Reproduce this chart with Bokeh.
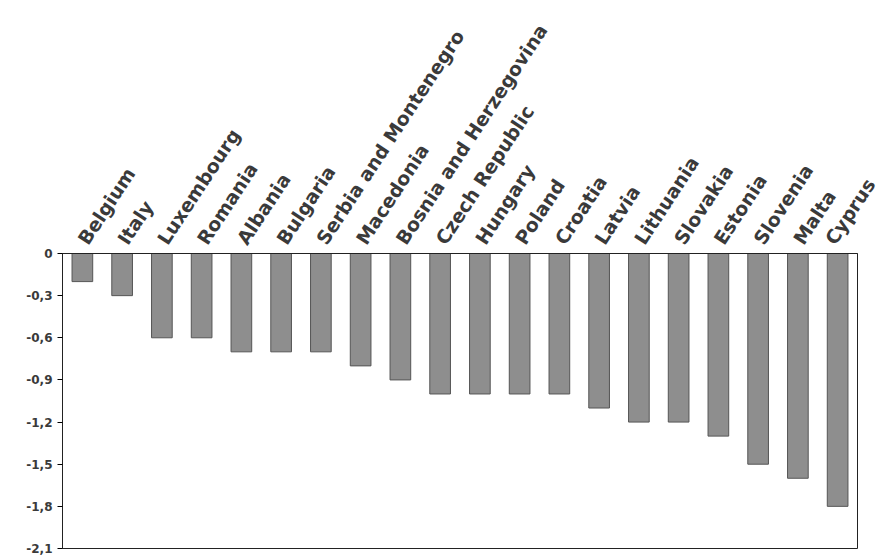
import math
from bokeh.plotting import figure
from bokeh.models import CustomJSTickFormatter, FixedTicker, Range1d
from bokeh.embed import file_html
from bokeh.resources import INLINE

countries = ["Belgium", "Italy", "Luxembourg", "Romania", "Albania", "Bulgaria",
             "Serbia and Montenegro", "Macedonia", "Bosnia and Herzegovina",
             "Czech Republic", "Hungary", "Poland", "Croatia", "Latvia", "Lithuania",
             "Slovakia", "Estonia", "Slovenia", "Malta", "Cyprus"]
values = [-0.2, -0.3, -0.6, -0.6, -0.7, -0.7, -0.7, -0.8, -0.9, -1.0, -1.0,
          -1.0, -1.0, -1.1, -1.2, -1.2, -1.3, -1.5, -1.6, -1.8]
yticks = [0, -0.3, -0.6, -0.9, -1.2, -1.5, -1.8, -2.1]

p = figure(x_range=countries, width=879, height=557, output_backend="svg",
           toolbar_location=None, x_axis_location="above",
           min_border_left=62, min_border_right=22, min_border_top=253,
           min_border_bottom=9)
p.y_range = Range1d(-2.1, 0)
p.vbar(x=countries, top=values, bottom=0, width=0.52,
       fill_color="#8e8e8e", line_color="#555555", line_width=1)

p.xgrid.visible = False
p.ygrid.visible = False
p.outline_line_color = "#222222"
p.xaxis.major_label_orientation = math.pi * 0.315
p.xaxis.major_label_text_font = "DejaVu Sans"
p.xaxis.major_label_text_font_style = "bold"
p.xaxis.major_label_text_font_size = "19px"
p.xaxis.major_label_text_color = "#3a3a3a"
p.xaxis.major_tick_line_color = None
p.xaxis.axis_line_color = "#222222"
p.yaxis.ticker = FixedTicker(ticks=yticks)
p.yaxis.formatter = CustomJSTickFormatter(
    code="return Math.abs(tick) < 1e-9 ? '0' : tick.toFixed(1).replace('.', ',');")
p.yaxis.major_label_text_font = "DejaVu Sans"
p.yaxis.major_label_text_font_style = "bold"
p.yaxis.major_label_text_font_size = "12px"
p.yaxis.major_label_text_color = "#3a3a3a"
p.yaxis.major_tick_in = 0
p.yaxis.major_tick_out = 5
p.yaxis.minor_tick_line_color = None
p.yaxis.axis_line_color = "#222222"

open("out.html", "w").write(file_html(p, INLINE))
